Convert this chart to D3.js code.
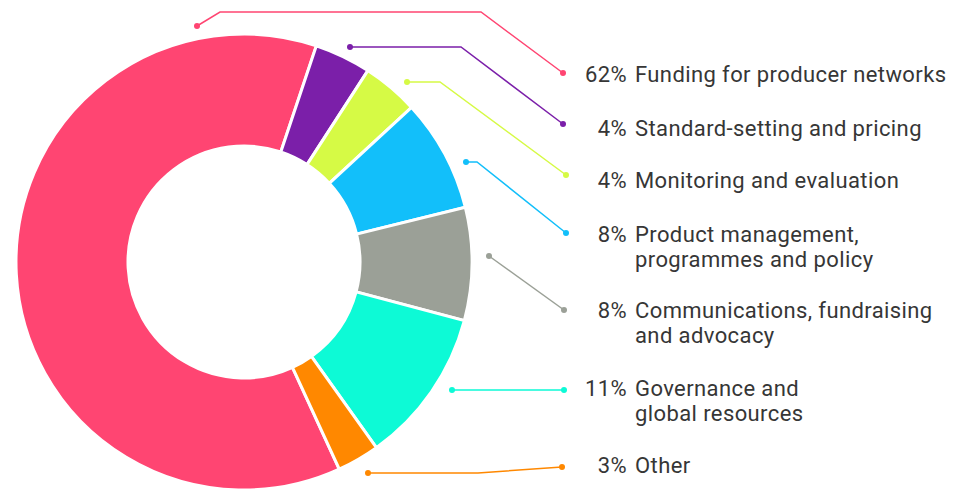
<!DOCTYPE html>
<html>
<head>
<meta charset="utf-8">
<script src="https://cdn.jsdelivr.net/npm/d3@7"></script>
<style>
  html, body { margin: 0; padding: 0; background: #fff; }
  svg { display: block; }
  text { font-family: Roboto, "Open Sans", sans-serif; fill: #363636; }
</style>
</head>
<body>
<svg id="chart" width="973" height="490"></svg>
<script>
// ---- data ----
const categories = [
  "Funding for producer networks",
  "Standard-setting and pricing",
  "Monitoring and evaluation",
  "Product management, programmes and policy",
  "Communications, fundraising and advocacy",
  "Governance and global resources",
  "Other"
];
const labelLines = [
  ["Funding for producer networks"],
  ["Standard-setting and pricing"],
  ["Monitoring and evaluation"],
  ["Product management,", "programmes and policy"],
  ["Communications, fundraising", "and advocacy"],
  ["Governance and", "global resources"],
  ["Other"]
];
const values = [62, 4, 4, 8, 8, 11, 3];
const colors = ["#FF4572", "#7B1FA9", "#D6FA45", "#12BFFA", "#9BA097", "#0DFAD6", "#FF8800"];

// ---- layout ----
const W = 973, H = 490;
const cx = 244, cy = 262, outerR = 228, innerR = 116;
const startDeg = -204.7;
const labelBaselines = [82, 136, 188, 242, 318, 396, 473];
const lineHeight = 25;
const pctX = 627, textX = 635;
// leader lines: start dot, optional bends, end dot
const leaders = [
  [[197, 26], [220, 12], [481, 12], [563, 73]],
  [[350, 47], [461, 47], [563, 124]],
  [[407, 82], [440, 82], [566, 175]],
  [[466, 162], [477, 162], [566, 233]],
  [[489, 256], [564, 310]],
  [[452, 390], [564, 390]],
  [[368, 473], [478, 473], [562, 467]]
];

const svg = d3.select("#chart");

const pie = d3.pie().sort(null).value(d => d)
  .startAngle(startDeg * Math.PI / 180)
  .endAngle((startDeg + 360) * Math.PI / 180);
const arc = d3.arc().innerRadius(innerR).outerRadius(outerR);

const g = svg.append("g").attr("transform", `translate(${cx},${cy})`);
g.selectAll("path.slice")
  .data(pie(values))
  .join("path")
  .attr("class", "slice")
  .attr("d", arc)
  .attr("fill", (d, i) => colors[i])
  .attr("stroke", "#fff")
  .attr("stroke-width", 3)
  .attr("stroke-linejoin", "miter");

// leaders
const line = d3.line();
const lg = svg.append("g");
leaders.forEach((pts, i) => {
  lg.append("path")
    .attr("d", line(pts))
    .attr("fill", "none")
    .attr("stroke", colors[i])
    .attr("stroke-width", 1.5);
  [pts[0], pts[pts.length - 1]].forEach(p => {
    lg.append("circle").attr("cx", p[0]).attr("cy", p[1]).attr("r", 3).attr("fill", colors[i]);
  });
});

// labels
const tg = svg.append("g").style("font-size", "22px").style("letter-spacing", "0.4px");
categories.forEach((c, i) => {
  tg.append("text")
    .attr("x", pctX).attr("y", labelBaselines[i])
    .attr("text-anchor", "end")
    .text(values[i] + "%");
  labelLines[i].forEach((ln, j) => {
    tg.append("text")
      .attr("x", textX)
      .attr("y", labelBaselines[i] + j * lineHeight)
      .text(ln);
  });
});
</script>
</body>
</html>
